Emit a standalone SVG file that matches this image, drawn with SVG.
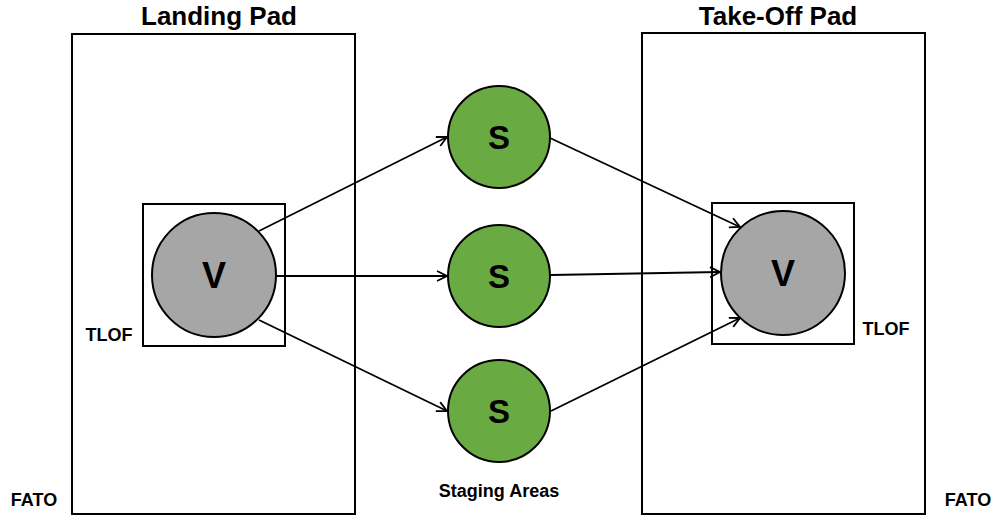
<svg xmlns="http://www.w3.org/2000/svg" width="993" height="518" viewBox="0 0 993 518">
<style>
.box{fill:none;stroke:#000;stroke-width:2}
.v{fill:#a6a6a6;stroke:#000;stroke-width:2}
.s{fill:#6aaa42;stroke:#000;stroke-width:2}
.t{font-family:"Liberation Sans",Arial,sans-serif;font-weight:bold;fill:#000;text-anchor:middle}
.lbl{font-size:18px}
.ttl{font-size:26px}
.big{font-size:36px}
.sl{font-size:33px}
.c{stroke:#000;stroke-width:1.8;fill:none;marker-end:url(#ah)}
</style>
<defs>
<marker id="ah" viewBox="0 0 12 12" refX="11" refY="6" markerWidth="12" markerHeight="12" markerUnits="userSpaceOnUse" orient="auto">
<path d="M1,1 L11,6 L1,11" fill="none" stroke="#000" stroke-width="1.8"/>
</marker>
</defs>
<g id="landing-pad">
<rect class="box" x="72" y="34" width="283" height="480"/>
<text class="t ttl" x="219" y="25">Landing Pad</text>
<text class="t lbl" x="34" y="506">FATO</text>
</g>
<g id="takeoff-pad">
<rect class="box" x="642" y="33" width="283" height="481"/>
<text class="t ttl" x="778" y="25">Take-Off Pad</text>
<text class="t lbl" x="968" y="506">FATO</text>
</g>
<g id="tlof-left">
<rect class="box" x="143" y="204" width="142" height="142"/>
<text class="t lbl" x="109" y="341">TLOF</text>
</g>
<g id="tlof-right">
<rect class="box" x="712" y="203" width="142" height="141"/>
<text class="t lbl" x="886" y="335">TLOF</text>
</g>
<g id="v-left">
<circle class="v" cx="214" cy="275" r="62"/>
<text class="t big" x="214" y="288">V</text>
</g>
<g id="v-right">
<circle class="v" cx="783" cy="273" r="62"/>
<text class="t big" x="783" y="286">V</text>
</g>
<g id="s-top">
<circle class="s" cx="499" cy="137" r="51"/>
<text class="t sl" x="499" y="149">S</text>
</g>
<g id="s-mid">
<circle class="s" cx="499" cy="276" r="51"/>
<text class="t sl" x="499" y="288">S</text>
</g>
<g id="s-bot">
<circle class="s" cx="499" cy="411" r="51"/>
<text class="t sl" x="499" y="423">S</text>
</g>
<text class="t lbl" x="499" y="497">Staging Areas</text>
<g id="connectors">
<line class="c" x1="259" y1="231" x2="447" y2="137"/>
<line class="c" x1="276" y1="276" x2="447" y2="276"/>
<line class="c" x1="259" y1="320" x2="447" y2="411"/>
<line class="c" x1="550" y1="138" x2="740" y2="227"/>
<line class="c" x1="551" y1="275" x2="720" y2="272"/>
<line class="c" x1="551" y1="411" x2="740" y2="318"/>
</g>
</svg>
